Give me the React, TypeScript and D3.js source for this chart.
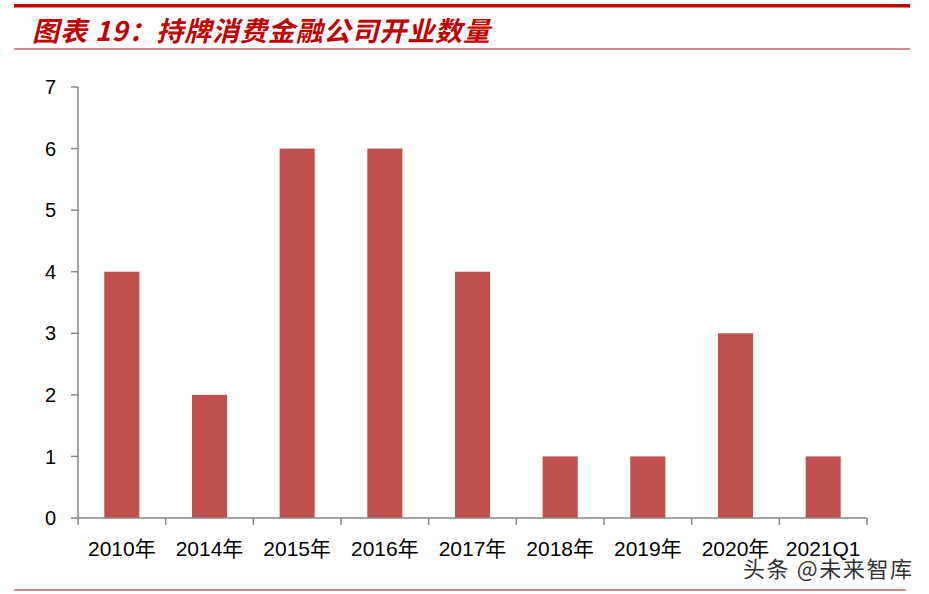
import React from 'react'
import * as d3 from 'd3'

// categories and values
const categories = ['2010年', '2014年', '2015年', '2016年', '2017年', '2018年', '2019年', '2020年', '2021Q1']
const counts = [4, 2, 6, 6, 4, 1, 1, 3, 1]
const yTicks = [0, 1, 2, 3, 4, 5, 6, 7]

const titleText = '图表 19：持牌消费金融公司开业数量'
const watermark = '头条 @未来智库'

const W = 929
const H = 594
const plot = { left: 78, right: 867, top: 87, bottom: 518 }

const numFont = '"Liberation Sans", "Noto Sans CJK SC", sans-serif'

const App: React.FC = () => {
  const x = d3.scaleBand<string>()
    .domain(categories)
    .range([plot.left, plot.right])
    .paddingInner(0.6)
    .paddingOuter(0.3)

  const y = d3.scaleLinear().domain([0, 7]).range([plot.bottom, plot.top])

  // tick marks sit on category boundaries, not centres
  const step = (plot.right - plot.left) / categories.length
  const boundaries = d3.range(categories.length + 1).map(i => plot.left + i * step)

  return (
    <svg width={W} height={H} style={{ position: 'absolute', left: 0, top: 0, background: '#fff' }}>
      {/* header rules */}
      <rect x={14} y={4} width={896} height={3.5} fill="#c00000" />
      <line x1={14} x2={910} y1={49} y2={49} stroke="#a01818" strokeWidth={1.2} />
      <text
        x={32}
        y={41}
        fill="#c00000"
        fontSize={27}
        fontWeight="bold"
        fontStyle="italic"
        fontFamily='"Noto Sans CJK SC", sans-serif'
        textLength={458}
        lengthAdjust="spacing"
      >
        {titleText}
      </text>

      {/* bars */}
      {categories.map((c, i) => (
        <rect
          key={c}
          x={x(c)}
          y={y(counts[i])}
          width={x.bandwidth()}
          height={y(0) - y(counts[i])}
          fill="#c0504d"
        />
      ))}

      {/* y axis */}
      <line x1={plot.left} x2={plot.left} y1={plot.top} y2={plot.bottom} stroke="#868686" strokeWidth={1.5} />
      {yTicks.map(t => (
        <g key={t}>
          <line x1={plot.left - 7} x2={plot.left} y1={y(t)} y2={y(t)} stroke="#868686" strokeWidth={1.5} />
          <text x={56} y={y(t)} dy="0.36em" textAnchor="end" fontSize={20} fontFamily={numFont} fill="#000">
            {t}
          </text>
        </g>
      ))}

      {/* x axis */}
      <line x1={plot.left} x2={plot.right} y1={plot.bottom} y2={plot.bottom} stroke="#868686" strokeWidth={1.5} />
      {boundaries.map((b, i) => (
        <line key={i} x1={b} x2={b} y1={plot.bottom} y2={plot.bottom + 7} stroke="#868686" strokeWidth={1.5} />
      ))}
      {categories.map(c => (
        <text
          key={c}
          x={(x(c) as number) + x.bandwidth() / 2}
          y={556}
          textAnchor="middle"
          fontSize={21}
          fontFamily={numFont}
          fill="#000"
        >
          {c}
        </text>
      ))}

      {/* footer rule */}
      <line x1={14} x2={906} y1={590} y2={590} stroke="#a01818" strokeWidth={1.2} />

      {/* watermark */}
      <text
        x={743}
        y={577}
        fontSize={22}
        fontFamily='"Noto Sans CJK SC", sans-serif'
        fill="#333"
        stroke="#fff"
        strokeWidth={3}
        paintOrder="stroke"
        textLength={169}
      >
        {watermark}
      </text>
    </svg>
  )
}

export default App
